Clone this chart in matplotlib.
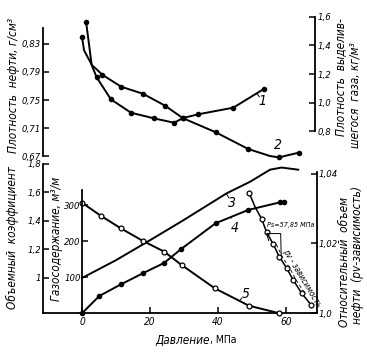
import matplotlib
matplotlib.use('Agg')
import matplotlib.pyplot as plt
import numpy as np
from matplotlib.lines import Line2D
from matplotlib import transforms
from matplotlib import font_manager as fm

# pick the narrowest sans font that is installed
have = {(f.name, f.stretch) for f in fm.fontManager.ttflist}
names = {n for n, s in have}
if 'Liberation Sans Narrow' in names:
    family, k = 'Liberation Sans Narrow', 1.0
elif ('DejaVu Sans', 'condensed') in have:
    family, k = 'DejaVu Sans', 0.85
    plt.rcParams['font.stretch'] = 'condensed'
else:
    family, k = 'Liberation Sans', 0.82
plt.rcParams['font.family'] = [family, 'DejaVu Sans']
plt.rcParams['font.style'] = 'italic'

# --- upper panel: densities vs pressure, MPa
p_oil = [0, 0.6, 2.9, 6.0, 11.5, 17.9, 24.4, 29.7, 39.3, 48.9, 55.3, 57.9, 63.9]
rho_oil = [0.840, 0.821, 0.800, 0.786, 0.769, 0.759, 0.742, 0.724, 0.704, 0.680, 0.670, 0.668, 0.675]
oil_marks = [0, 3, 4, 5, 6, 7, 8, 9, 11, 12]

p_gas = [1.2, 2.85, 4.3, 8.5, 14.4, 21.1, 27.1, 29.7, 34.2, 44.5, 53.6]
rho_gas = [1.565, 1.263, 1.178, 1.024, 0.931, 0.892, 0.861, 0.894, 0.920, 0.966, 1.098]
gas_marks = [0, 2, 3, 4, 5, 6, 7, 8, 9, 10]

# --- lower panel
p_b = [0, 10, 20, 29.8, 42.6, 49.4, 55.3, 58.7, 63.6]
b_oil = [1.0, 1.125, 1.265, 1.405, 1.595, 1.675, 1.76, 1.775, 1.76]

p_dis = [0, 5.1, 11.4, 17.9, 24.2, 29.1, 39.3, 48.9, 58.2, 59.5]
g_dis = [0, 48, 80, 111, 140, 178, 250, 287, 308, 308]

p_rel = [0, 5.5, 11.4, 17.9, 24.2, 29.3, 39.1, 49.1, 58.0]
g_rel = [307, 271, 236, 201, 171, 134, 69, 21, 0]

p_pv = [49.2, 50.9, 52.9, 54.3, 56.3, 58.0, 60.2, 62.1, 64.6, 67.4]
v_pv = [1.0344, 1.0305, 1.0269, 1.0232, 1.0197, 1.0162, 1.0129, 1.0095, 1.0057, 1.0023]
pv_marks = [0, 2, 3, 4, 5, 6, 7, 8, 9]
Ps = 57.85

oil_ticks = [0.67, 0.71, 0.75, 0.79, 0.83]
oil_labels = ['0,67', '0,71', '0,75', '0,79', '0,83']
gas_ticks = [0.8, 1.0, 1.2, 1.4, 1.6]
gas_labels = ['0,8', '1,0', '1,2', '1,4', '1,6']
b_ticks = [1.0, 1.2, 1.4, 1.6, 1.8]
b_labels = ['1', '1,2', '1,4', '1,6', '1,8']
g_ticks = [100, 200, 300]
g_labels = ['100', '200', '300']
v_ticks = [1.0, 1.02, 1.04]
v_labels = ['1,0', '1,02', '1,04']
p_ticks = [0, 20, 40, 60]
p_labels = ['0', '20', '40', '60']

W, H = 367, 353
fig = plt.figure(figsize=(W / 100, H / 100), dpi=100)
tick_fs = 8 * k
lab_fs = 10 * k


def box(l, t, r, b):
    return [l / W, 1 - b / H, (r - l) / W, (b - t) / H]


def px(x, y):
    return x / W, 1 - y / H


def style(ax, side):
    for s in ['top', 'bottom', 'left', 'right']:
        ax.spines[s].set_visible(False)
    ax.spines[side].set_visible(True)
    ax.spines[side].set_linewidth(1.3)
    ax.tick_params(axis='y', direction='in', length=4, width=1.1, labelsize=tick_fs, pad=1.5)


line_kw = dict(color='black', lw=1.4, clip_on=False)

# upper panel
ax1 = fig.add_axes(box(43, 15, 315, 157))
ax1.patch.set_visible(False)
ax1.set_xlim(-11.47, 68.53)
ax1.set_ylim(0.6686, 0.8714)
style(ax1, 'left')
ax1.spines['left'].set_bounds(0.67, 0.853)
ax1.set_xticks([])
ax1.set_yticks(oil_ticks, oil_labels)
ax1.plot(p_oil, rho_oil, marker='o', ms=3, markevery=oil_marks, **line_kw)

ax1r = ax1.twinx()
ax1r.set_ylim(0.6223, 1.6118)
style(ax1r, 'right')
ax1r.spines['right'].set_bounds(0.8, 1.6)
ax1r.set_yticks(gas_ticks, gas_labels)
ax1r.plot(p_gas, rho_gas, marker='o', ms=3, markevery=gas_marks, **line_kw)

# lower panel
ax2 = fig.add_axes(box(43, 160, 317, 313))
ax2.patch.set_visible(False)
ax2.set_xlim(-11.47, 69.12)
ax2.set_ylim(0.7544, 1.828)
style(ax2, 'left')
ax2.spines['bottom'].set_visible(True)
ax2.spines['bottom'].set_linewidth(1.3)
ax2.spines['left'].set_bounds(0.7544, 1.8)
ax2.set_yticks(b_ticks, b_labels)
ax2.set_xticks(p_ticks, p_labels)
ax2.tick_params(axis='x', direction='in', length=4, width=1.1, labelsize=tick_fs + 0.5, pad=3)
ax2.plot(p_b, b_oil, **line_kw)

ax2g = ax2.twinx()
ax2g.set_ylim(0.69, 425.7)
style(ax2g, 'left')
ax2g.spines['left'].set_position(('data', 0))
ax2g.spines['left'].set_bounds(0.69, 343)
ax2g.yaxis.tick_left()
ax2g.set_yticks(g_ticks, g_labels)
ax2g.tick_params(axis='y', direction='in', length=4, width=1.1, labelsize=tick_fs, pad=1)
ax2g.plot(p_dis, g_dis, marker='o', ms=3, **line_kw)
ax2g.plot(p_rel, g_rel, marker='o', ms=3.5, mfc='white', mec='black', mew=0.9, **line_kw)

ax2v = ax2.twinx()
ax2v.set_ylim(1.0, 1.04397)
style(ax2v, 'right')
ax2v.spines['right'].set_bounds(1.0, 1.0406)
ax2v.set_yticks(v_ticks, v_labels)
ax2v.tick_params(axis='y', pad=1)
ax2v.plot(p_pv, v_pv, marker='o', ms=3.5, mfc='white', mec='black', mew=0.9,
          markevery=pv_marks, color='black', lw=1.1, clip_on=False)
shift = transforms.offset_copy(ax2v.transData, fig=fig, x=3, y=0, units='dots')
ax2v.plot(p_pv[4:9], v_pv[4:9], color='black', lw=0.6, ls=(0, (4, 3)), transform=shift)

# Ps bracket
v_ps = np.interp(Ps, p_pv, v_pv)
x0, y0 = ax2v.transData.transform((Ps, v_ps))
fig.add_artist(Line2D([x0 - 10, x0 - 12, x0 + 2, x0 + 2.5], [y0 + 15, y0 + 22, y0 + 22, y0 + 1],
                      color='black', lw=0.7, transform=transforms.IdentityTransform()))
ax2v.annotate('Ps=57,85 МПа', xy=(Ps, v_ps), xytext=(-12, 31), textcoords='offset pixels',
              fontsize=6 * k, ha='left', va='center')
ax2v.annotate('pv - зависимость', xy=(p_pv[7], v_pv[7]), xytext=(9, 2), textcoords='offset pixels',
              fontsize=7 * k, rotation=-59, rotation_mode='anchor', ha='center', va='center')


# curve numbers
def num(ax, text, xs, ys, at, dx, dy):
    ax.annotate(text, xy=(at, np.interp(at, xs, ys)), xytext=(dx, dy), textcoords='offset pixels',
                fontsize=10, ha='center', va='center',
                arrowprops=dict(arrowstyle='-', lw=0.7, color='black', shrinkA=4, shrinkB=0))


num(ax1r, '1', p_gas, rho_gas, 51.4, 6, -8)
num(ax1, '2', p_oil, rho_oil, 54.5, 11, 10)
num(ax2, '3', p_b, b_oil, 42.4, 6, -9)
num(ax2g, '4', p_dis, g_dis, 43.8, 4, -11)
num(ax2g, '5', p_rel, g_rel, 46.3, 6, 7)

# axis titles
lab = dict(rotation=90, ha='center', va='center', fontsize=lab_fs)
fig.text(*px(14, 85), 'Плотность  нефти, г/см³', **lab)
fig.text(*px(341, 77), 'Плотность  выделив-', **lab)
fig.text(*px(355, 95), 'шегося  газа, кг/м³', **lab)
fig.text(*px(12, 238), 'Объемный  коэффициент', **lab)
fig.text(*px(57, 239), 'Газосодержание, м³/м', **lab)
fig.text(*px(344, 262), 'Относительный  объем', **lab)
fig.text(*px(358, 255), 'нефти  (pv-зависимость)', **lab)
fig.text(*px(210, 340), 'Давление', ha='right', va='center', fontsize=lab_fs)
fig.text(*px(210, 340), ', МПа', ha='left', va='center', fontsize=lab_fs - 1, style='normal')

fig.savefig('out.png', dpi=100)
